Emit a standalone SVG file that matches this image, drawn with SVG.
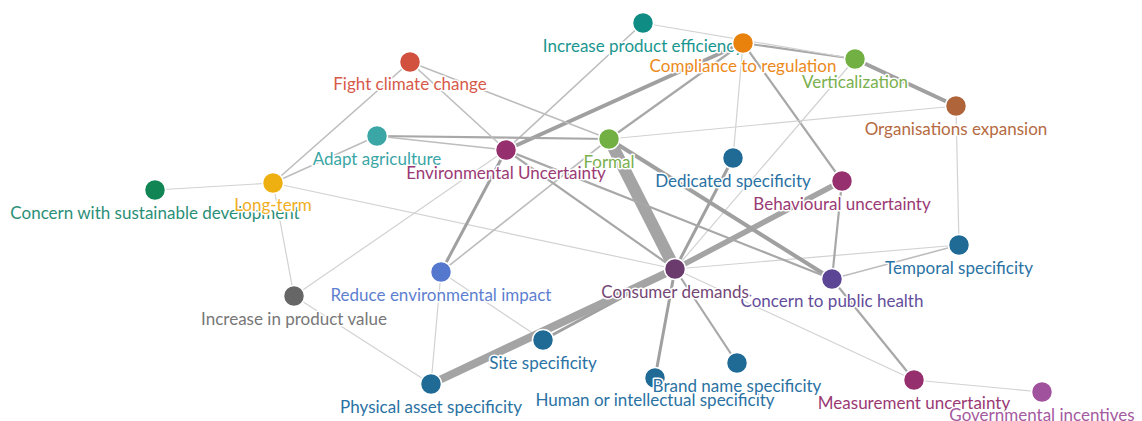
<svg xmlns="http://www.w3.org/2000/svg" width="1142" height="421" viewBox="0 0 1142 421">
<style>
  .e { stroke: #b0b0b0; stroke-linecap: round; fill: none; }
  .w1 { stroke-width: 1.2; stroke: #d2d2d2; }
  .w2 { stroke-width: 1.6; stroke: #bdbdbd; }
  .w3 { stroke-width: 2.2; stroke: #a8a8a8; }
  .w4 { stroke-width: 3; stroke: #a0a0a0; }
  .w5 { stroke-width: 4; stroke: #a0a0a0; }
  .w6 { stroke-width: 5.5; stroke: #a4a4a4; }
  .w8 { stroke-width: 8; stroke: #a4a4a4; stroke-linecap: butt; }
  .w12 { stroke-width: 12; stroke: #a4a4a4; stroke-linecap: butt; }
  .n circle { stroke: #ffffff; stroke-width: 1.5; }
  .n text { font-family: Lato, "Liberation Sans", sans-serif; font-size: 17px; text-anchor: middle; stroke: #ffffff; stroke-width: 3px; stroke-linejoin: round; paint-order: stroke; }
</style>
<rect width="1142" height="421" fill="#ffffff"/>
<g id="connectors">
  <line class="e w1" x1="155" y1="190" x2="273" y2="183"/>
  <line class="e w2" x1="273" y1="183" x2="410" y2="62"/>
  <line class="e w2" x1="273" y1="183" x2="377" y2="136"/>
  <line class="e w1" x1="273" y1="183" x2="675" y2="269"/>
  <line class="e w1" x1="273" y1="183" x2="294" y2="296"/>
  <line class="e w1" x1="294" y1="296" x2="506" y2="150"/>
  <line class="e w1" x1="294" y1="296" x2="431" y2="384"/>
  <line class="e w1" x1="441" y1="272" x2="431" y2="384"/>
  <line class="e w4" x1="441" y1="272" x2="506" y2="150"/>
  <line class="e w2" x1="441" y1="272" x2="609" y2="139"/>
  <line class="e w1" x1="441" y1="272" x2="543" y2="340"/>
  <line class="e w4" x1="543" y1="340" x2="675" y2="269"/>
  <line class="e w8" x1="431" y1="384" x2="675" y2="269"/>
  <line class="e w4" x1="655" y1="378" x2="675" y2="269"/>
  <line class="e w3" x1="737" y1="363" x2="675" y2="269"/>
  <line class="e w1" x1="675" y1="269" x2="914" y2="380"/>
  <line class="e w3" x1="832" y1="279" x2="914" y2="380"/>
  <line class="e w1" x1="914" y1="380" x2="1042" y2="392"/>
  <line class="e w2" x1="832" y1="279" x2="959" y2="245"/>
  <line class="e w1" x1="675" y1="269" x2="959" y2="245"/>
  <line class="e w1" x1="956" y1="106" x2="959" y2="245"/>
  <line class="e w3" x1="842" y1="181" x2="832" y2="279"/>
  <line class="e w6" x1="675" y1="269" x2="842" y2="181"/>
  <line class="e w3" x1="743" y1="43" x2="842" y2="181"/>
  <line class="e w1" x1="743" y1="43" x2="733" y2="158"/>
  <line class="e w4" x1="733" y1="158" x2="675" y2="269"/>
  <line class="e w1" x1="855" y1="59" x2="675" y2="269"/>
  <line class="e w5" x1="855" y1="59" x2="956" y2="106"/>
  <line class="e w3" x1="743" y1="43" x2="855" y2="59"/>
  <line class="e w1" x1="643" y1="23" x2="855" y2="59"/>
  <line class="e w2" x1="643" y1="23" x2="506" y2="150"/>
  <line class="e w5" x1="743" y1="43" x2="506" y2="150"/>
  <line class="e w3" x1="743" y1="43" x2="609" y2="139"/>
  <line class="e w1" x1="609" y1="139" x2="956" y2="106"/>
  <line class="e w12" x1="609" y1="139" x2="675" y2="269"/>
  <line class="e w5" x1="609" y1="139" x2="832" y2="279"/>
  <line class="e w3" x1="506" y1="150" x2="832" y2="279"/>
  <line class="e w3" x1="506" y1="150" x2="675" y2="269"/>
  <line class="e w3" x1="377" y1="136" x2="609" y2="139"/>
  <line class="e w2" x1="377" y1="136" x2="506" y2="150"/>
  <line class="e w2" x1="410" y1="62" x2="506" y2="150"/>
  <line class="e w2" x1="410" y1="62" x2="609" y2="139"/>
</g>
<g id="node-sust" class="n"><circle cx="155" cy="190" r="10.5" fill="#118654"/><text x="155" y="219" fill="#2b8f78">Concern with sustainable development</text></g>
<g id="node-longterm" class="n"><circle cx="273" cy="183" r="10.5" fill="#eeb010"/><text x="273" y="211" fill="#f0ae22">Long-term</text></g>
<g id="node-incvalue" class="n"><circle cx="294" cy="296" r="10.5" fill="#666666"/><text x="294" y="325" fill="#777777">Increase in product value</text></g>
<g id="node-fight" class="n"><circle cx="410" cy="62" r="10.5" fill="#d1513e"/><text x="410" y="90" fill="#d65a4a">Fight climate change</text></g>
<g id="node-adapt" class="n"><circle cx="377" cy="136" r="10.5" fill="#3aa6a6"/><text x="377" y="165" fill="#3aa6a6">Adapt agriculture</text></g>
<g id="node-ipe" class="n"><circle cx="643" cy="23" r="10.5" fill="#0f8c83"/><text x="643" y="52" fill="#1a9690">Increase product efficiency</text></g>
<g id="node-compliance" class="n"><circle cx="743" cy="43" r="10.5" fill="#e8820c"/><text x="743" y="72" fill="#ec8a1c">Compliance to regulation</text></g>
<g id="node-vertical" class="n"><circle cx="855" cy="59" r="10.5" fill="#72b043"/><text x="855" y="88" fill="#7ab04e">Verticalization</text></g>
<g id="node-org" class="n"><circle cx="956" cy="106" r="10.5" fill="#b0643a"/><text x="956" y="135" fill="#b56a42">Organisations expansion</text></g>
<g id="node-formal" class="n"><circle cx="609" cy="139" r="10.5" fill="#72b043"/><text x="609" y="168" fill="#7ab04e">Formal</text></g>
<g id="node-env" class="n"><circle cx="506" cy="150" r="10.5" fill="#952f6d"/><text x="506" y="179" fill="#9a3a74">Environmental Uncertainty</text></g>
<g id="node-dedicated" class="n"><circle cx="733" cy="158" r="10.5" fill="#1f6b96"/><text x="733" y="187" fill="#2a72a3">Dedicated specificity</text></g>
<g id="node-behav" class="n"><circle cx="842" cy="181" r="10.5" fill="#96306e"/><text x="842" y="210" fill="#9a3a74">Behavioural uncertainty</text></g>
<g id="node-temporal" class="n"><circle cx="959" cy="245" r="10.5" fill="#1f6b96"/><text x="959" y="274" fill="#2a72a3">Temporal specificity</text></g>
<g id="node-reduce" class="n"><circle cx="441" cy="272" r="10.5" fill="#5578cf"/><text x="441" y="301" fill="#5e7fd0">Reduce environmental impact</text></g>
<g id="node-cph" class="n"><circle cx="832" cy="279" r="10.5" fill="#5b4594"/><text x="832" y="307" fill="#634d9a">Concern to public health</text></g>
<g id="node-cd" class="n"><circle cx="675" cy="269" r="10.5" fill="#6c3b6d"/><text x="675" y="298" fill="#744776">Consumer demands</text></g>
<g id="node-site" class="n"><circle cx="543" cy="340" r="10.5" fill="#1f6b96"/><text x="543" y="369" fill="#2a72a3">Site specificity</text></g>
<g id="node-phys" class="n"><circle cx="431" cy="384" r="10.5" fill="#1f6b96"/><text x="431" y="413" fill="#2a72a3">Physical asset specificity</text></g>
<g id="node-human" class="n"><circle cx="655" cy="378" r="10.5" fill="#1f6b96"/><text x="655" y="406" fill="#2a72a3">Human or intellectual specificity</text></g>
<g id="node-brand" class="n"><circle cx="737" cy="363" r="10.5" fill="#1f6b96"/><text x="737" y="392" fill="#2a72a3">Brand name specificity</text></g>
<g id="node-meas" class="n"><circle cx="914" cy="380" r="10.5" fill="#952f6d"/><text x="914" y="409" fill="#9a3a74">Measurement uncertainty</text></g>
<g id="node-gov" class="n"><circle cx="1042" cy="392" r="10.5" fill="#a0529c"/><text x="1042" y="421" fill="#a45aa0">Governmental incentives</text></g>
</svg>
